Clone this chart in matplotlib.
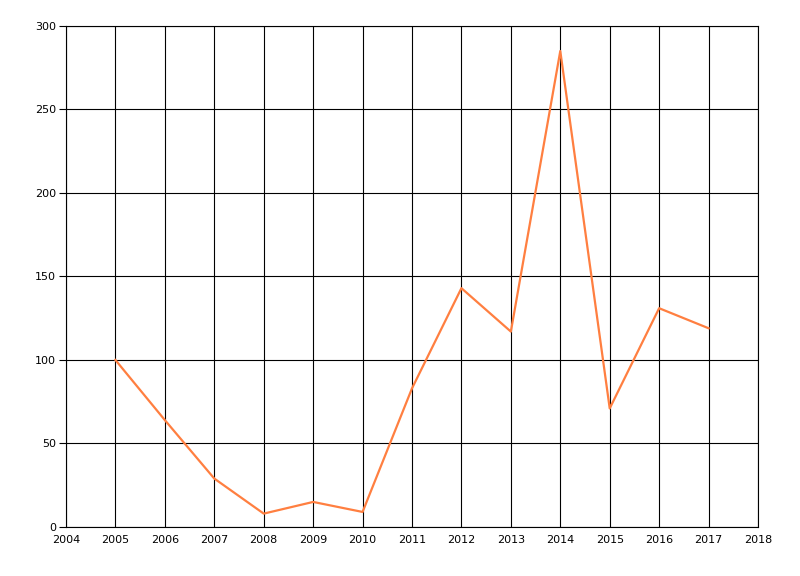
import matplotlib
matplotlib.use('Agg')
import matplotlib.pyplot as plt

years = [2005, 2006, 2007, 2008, 2009, 2010, 2011, 2012, 2013, 2014, 2015, 2016, 2017]
values = [100, 64, 29, 8, 15, 9, 83, 143, 117, 285, 71, 131, 119]

fig = plt.figure(figsize=(8, 5.76), dpi=100)
ax = fig.add_axes([0.0825, 0.0851, 0.865, 0.8698])

ax.plot(years, values, color='#FF7F40', linewidth=1.6, zorder=3)

ax.set_xlim(2004, 2018)
ax.set_ylim(0, 300)
ax.set_xticks(range(2004, 2019))
ax.set_yticks(range(0, 301, 50))
ax.grid(True, color='black', linewidth=0.8)
ax.set_axisbelow(True)

for s in ax.spines.values():
    s.set_color('black')
    s.set_linewidth(0.8)

ax.tick_params(axis='y', length=5, width=0.8, labelsize=8, pad=2)
ax.tick_params(axis='x', length=0, labelsize=8, pad=6)

fig.savefig('out.png', dpi=100)
